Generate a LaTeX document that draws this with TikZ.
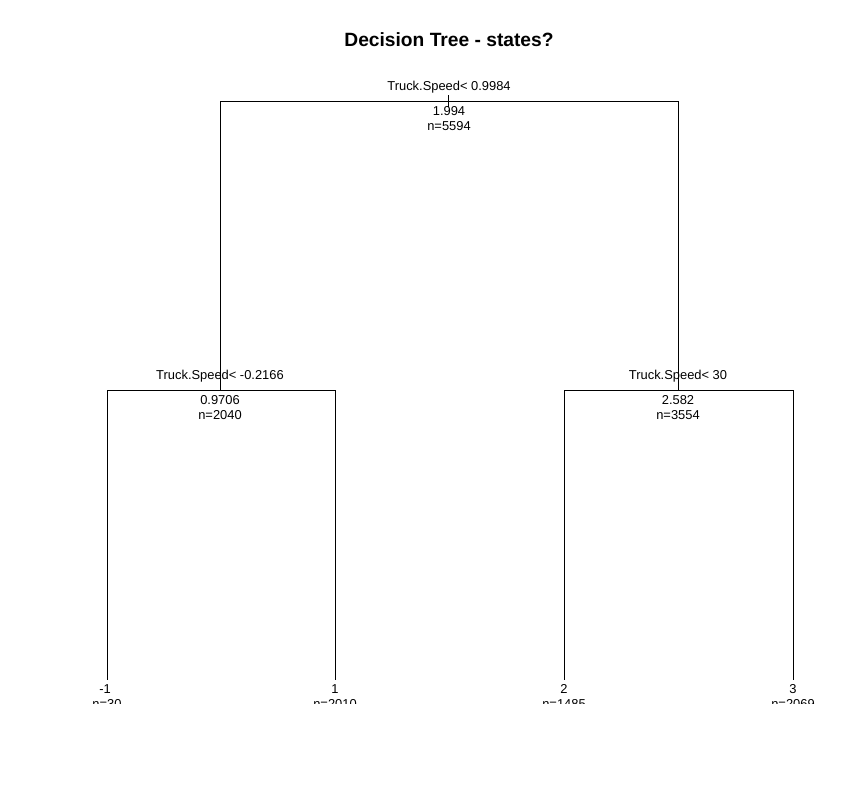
\documentclass[tikz,border=0pt]{standalone}
\usepackage{fontspec}
\setmainfont{Liberation Sans}
\begin{document}
\begin{tikzpicture}[x=1pt, y=-1pt, line width=.9pt]
\useasboundingbox (0,0) rectangle (861,800);
\tikzstyle{every node}=[inner sep=0pt, anchor=base, font=\fontsize{12.9}{15}\selectfont] %%
\node[font=\fontsize{19.2}{22}\selectfont\bfseries] (title) at (449,47) {Decision Tree - states?};
\begin{scope}
\coordinate (rtop) at (448,95); %%
\coordinate (rbot) at (448,107); %%
\coordinate (r) at (448,101); %%
\coordinate (a) at (220,390); %%
\coordinate (b) at (678,390); %%
\coordinate (a1) at (107,680); %%
\coordinate (a2) at (335,680); %%
\coordinate (b1) at (564,680); %%
\coordinate (b2) at (793,680);
\end{scope}
%\draw[step=10,color=gray] (0,0) grid (861,800);%%
\draw (rtop)--(rbot); %%
\draw (r) -| (a); %%
\draw (r) -| (b); %%
\draw (a) -| (a1); %%
\draw (a) -| (a2); %%
\draw (b) -| (b1); %%
\draw (b) -| (b2); %%
\node (sr) at (449,90) {Truck.Speed< 0.9984}; %%
\node (vr) at (449,115) {1.994}; %%
\node (nr) at (449,130) {n=5594}; %%
\node (sa) at (220,379) {Truck.Speed< -0.2166}; %%
\node (va) at (220,404) {0.9706}; %%
\node (na) at (220,419) {n=2040}; %%
\node (sb) at (678,379) {Truck.Speed< 30}; %%
\node (vb) at (678,404) {2.582}; %%
\node (nb) at (678,419) {n=3554}; %%
\node (va1) at (105,693.5) {-1}; %%
\node (va2) at (335,693.5) {1}; %%
\node (vb1) at (564,693.5) {2}; %%
\node (vb2) at (793,693.5) {3}; %%
\begin{scope}
\clip (0,0) rectangle (861,703); %%
\node (na1) at (107,708.5) {n=30}; %%
\node (na2) at (335,708.5) {n=2010}; %%
\node (nb1) at (564,708.5) {n=1485}; %%
\node (nb2) at (793,708.5) {n=2069};
\end{scope}
\end{tikzpicture}
\end{document}
